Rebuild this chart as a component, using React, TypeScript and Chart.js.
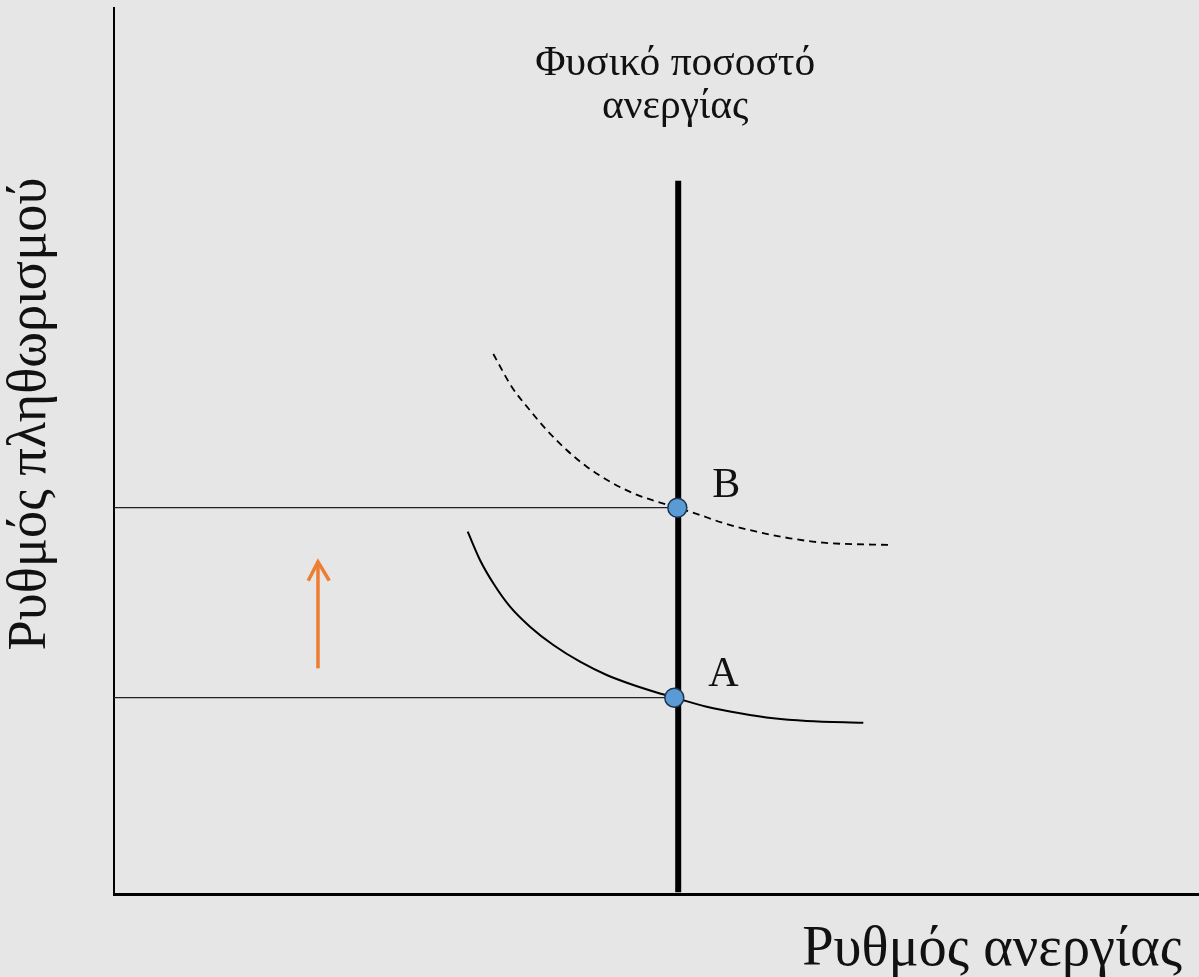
import React, { useEffect, useRef } from "react";
import { Chart, registerables } from "chart.js";

Chart.register(...registerables);

// ---- data ----
const xAxisLabel = "Ρυθμός ανεργίας";
const yAxisLabel = "Ρυθμός πληθωρισμού";
const naturalRateLabel = ["Φυσικό ποσοστό", "ανεργίας"];
const pointLabels = ["A", "B"];

const naturalRateX = 52;
const naturalRateY = [0.2, 80.5];

// short-run Phillips curve (initial)
const curveAX = [32.6, 33.73, 34.96, 36.5, 38.34, 40.49, 42.95, 45.41, 47.86, 50.02, 51.64, 54.63, 57.7, 60.77, 63.84, 69.06];
const curveAY = [40.89, 37.7, 35.07, 32.43, 30.17, 28.1, 26.22, 24.72, 23.59, 22.74, 22.16, 21.14, 20.4, 19.83, 19.53, 19.33];

// short-run Phillips curve (shifted, dashed)
const curveBX = [34.96, 36.65, 38.18, 39.88, 41.72, 43.57, 45.71, 47.86, 49.71, 51.92, 53.7, 56.16, 59.23, 62.3, 65.37, 71.52];
const curveBY = [60.95, 57.26, 54.82, 52.37, 50.11, 48.23, 46.54, 45.23, 44.41, 43.6, 42.91, 41.87, 40.89, 40.15, 39.65, 39.39];

// equilibrium points A and B
const pointsX = [51.64, 51.92];
const pointsY = [22.16, 43.6];

// orange arrow
const arrowShaftX = [18.8, 18.8];
const arrowShaftY = [25.47, 37.3];
const arrowHeadX = [17.9, 18.8, 19.84];
const arrowHeadY = [35.36, 37.5, 35.36];

const X_MIN = 0;
const X_MAX = 100;
const Y_MIN = 0;
const Y_MAX = 100;

const FONT = "'Liberation Serif', 'DejaVu Serif', serif";

function zip(xs: number[], ys: number[]) {
  return xs.map((x, i) => ({ x, y: ys[i] }));
}

function fitFont(ctx: CanvasRenderingContext2D, text: string, width: number) {
  ctx.font = `100px ${FONT}`;
  const w = ctx.measureText(text).width;
  return (100 * width) / w;
}

const bgPlugin = {
  id: "bg",
  beforeDraw(chart: any) {
    const ctx = chart.ctx as CanvasRenderingContext2D;
    ctx.save();
    ctx.fillStyle = "#e6e6e6";
    ctx.fillRect(0, 0, chart.width, chart.height);
    ctx.restore();
  },
};

const textPlugin = {
  id: "texts",
  afterDatasetsDraw(chart: any) {
    const ctx = chart.ctx as CanvasRenderingContext2D;
    const xs = chart.scales.x;
    const ys = chart.scales.y;
    ctx.save();
    ctx.fillStyle = "#111";
    ctx.textBaseline = "alphabetic";

    // x axis title (bottom right)
    let s = fitFont(ctx, xAxisLabel, 380);
    ctx.font = `${s}px ${FONT}`;
    ctx.textAlign = "right";
    ctx.fillText(xAxisLabel, 1182, 965);

    // y axis title (rotated)
    s = fitFont(ctx, yAxisLabel, 473);
    ctx.save();
    ctx.translate(45, 414);
    ctx.rotate(-Math.PI / 2);
    ctx.font = `${s}px ${FONT}`;
    ctx.textAlign = "center";
    ctx.fillText(yAxisLabel, 0, 0);
    ctx.restore();

    // natural rate label
    const cx = xs.getPixelForValue(naturalRateX) - 3;
    s = fitFont(ctx, naturalRateLabel[0], 280);
    ctx.font = `${s}px ${FONT}`;
    ctx.textAlign = "center";
    ctx.fillText(naturalRateLabel[0], cx, 75);
    ctx.fillText(naturalRateLabel[1], cx, 118);

    // point labels
    ctx.font = `42px ${FONT}`;
    ctx.textAlign = "left";
    const ax = xs.getPixelForValue(pointsX[0]);
    const ay = ys.getPixelForValue(pointsY[0]);
    ctx.fillText(pointLabels[0], ax + 34, ay - 12);
    const bx = xs.getPixelForValue(pointsX[1]);
    const by = ys.getPixelForValue(pointsY[1]);
    ctx.fillText(pointLabels[1], bx + 35, by - 11);
    ctx.restore();
  },
};

export default function App() {
  const ref = useRef<HTMLCanvasElement | null>(null);

  useEffect(() => {
    if (!ref.current) return;
    const chart = new Chart(ref.current, {
      type: "scatter",
      data: {
        datasets: [
          {
            label: "hA",
            data: [
              { x: X_MIN, y: pointsY[0] },
              { x: pointsX[0], y: pointsY[0] },
            ],
            showLine: true,
            borderColor: "#222",
            borderWidth: 1.2,
            pointRadius: 0,
            order: 5,
          },
          {
            label: "hB",
            data: [
              { x: X_MIN, y: pointsY[1] },
              { x: pointsX[1], y: pointsY[1] },
            ],
            showLine: true,
            borderColor: "#222",
            borderWidth: 1.2,
            pointRadius: 0,
            order: 5,
          },
          {
            label: "curveA",
            data: zip(curveAX, curveAY),
            showLine: true,
            borderColor: "#000",
            borderWidth: 2,
            pointRadius: 0,
            cubicInterpolationMode: "monotone",
            order: 4,
          },
          {
            label: "curveB",
            data: zip(curveBX, curveBY),
            showLine: true,
            borderColor: "#000",
            borderWidth: 1.8,
            borderDash: [7, 5],
            pointRadius: 0,
            cubicInterpolationMode: "monotone",
            order: 4,
          },
          {
            label: "natural",
            data: naturalRateY.map((y) => ({ x: naturalRateX, y })),
            showLine: true,
            borderColor: "#000",
            borderWidth: 6,
            pointRadius: 0,
            borderCapStyle: "butt",
            order: 3,
          },
          {
            label: "arrowShaft",
            data: zip(arrowShaftX, arrowShaftY),
            showLine: true,
            borderColor: "#ED7D31",
            borderWidth: 3.5,
            pointRadius: 0,
            order: 2,
          },
          {
            label: "arrowHead",
            data: zip(arrowHeadX, arrowHeadY),
            showLine: true,
            borderColor: "#ED7D31",
            borderWidth: 3.5,
            pointRadius: 0,
            borderJoinStyle: "miter",
            order: 2,
          },
          {
            label: "points",
            data: zip(pointsX, pointsY),
            showLine: false,
            backgroundColor: "#5B9BD5",
            borderColor: "#1d3550",
            borderWidth: 1.5,
            pointRadius: 9.5,
            order: 1,
          },
        ],
      },
      options: {
        animation: false,
        responsive: false,
        maintainAspectRatio: false,
        layout: { autoPadding: false, padding: { left: 114, top: 8, right: 0, bottom: 83 } },
        plugins: {
          legend: { display: false },
          tooltip: { enabled: false },
        },
        scales: {
          x: {
            type: "linear",
            min: X_MIN,
            max: X_MAX,
            ticks: { display: false },
            grid: { display: false, drawTicks: false },
            border: { display: true, color: "#000", width: 3 },
          },
          y: {
            type: "linear",
            min: Y_MIN,
            max: Y_MAX,
            ticks: { display: false },
            grid: { display: false, drawTicks: false },
            border: { display: true, color: "#000", width: 2 },
          },
        },
      },
      plugins: [bgPlugin, textPlugin],
    });
    return () => chart.destroy();
  }, []);

  return (
    <div style={{ position: "absolute", left: 0, top: 0, width: 1199, height: 977, background: "#e6e6e6" }}>
      <canvas ref={ref} width={1199} height={977} style={{ display: "block" }} />
    </div>
  );
}
